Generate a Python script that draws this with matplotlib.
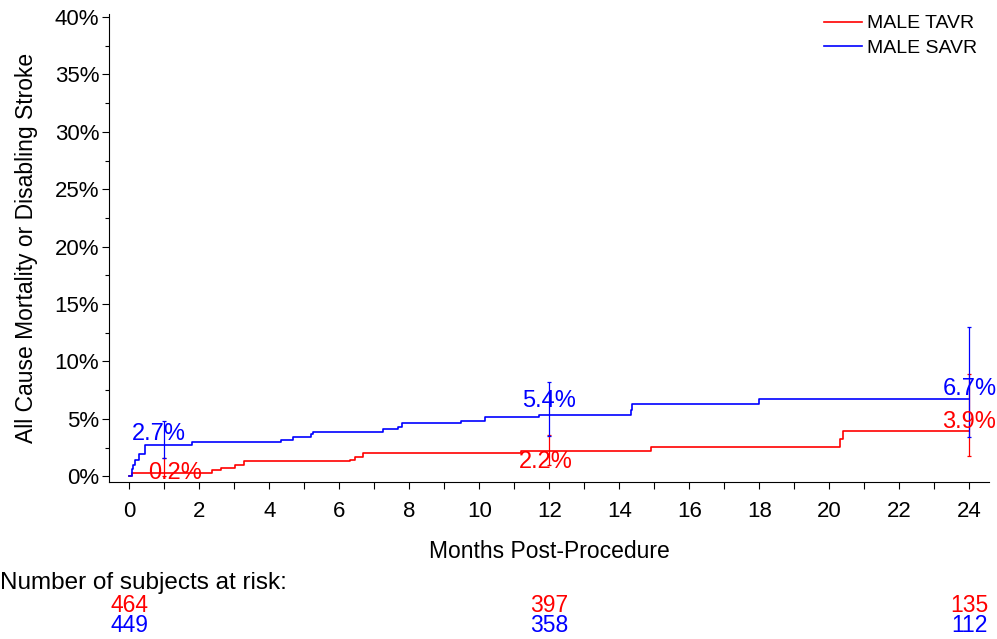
import numpy as np
import matplotlib
matplotlib.use('Agg')
import matplotlib.pyplot as plt
from matplotlib.ticker import MultipleLocator, FuncFormatter
import matplotlib.transforms as mtransforms

plt.rcParams['font.family'] = ['Liberation Sans', 'DejaVu Sans']

# Kaplan-Meier style event rate (%) - step curves
tavr_t = [0, 0.08, 2.36, 2.62, 3.03, 3.29, 6.31, 6.46, 6.68, 11.2, 14.9, 20.3, 20.4, 24]
tavr_y = [0, 0.29, 0.52, 0.73, 0.96, 1.33, 1.45, 1.68, 2.0, 2.2, 2.54, 3.22, 3.9, 3.9]

savr_t = [0, 0.07, 0.12, 0.17, 0.27, 0.46, 1.79, 4.34, 4.69, 5.19, 5.25, 7.25, 7.68, 7.79,
          9.47, 10.15, 11.72, 14.34, 14.37, 18.0, 24]
savr_y = [0, 0.67, 0.96, 1.39, 1.92, 2.76, 2.96, 3.14, 3.42, 3.7, 3.86, 4.09, 4.3, 4.64,
          4.84, 5.14, 5.37, 5.73, 6.29, 6.7, 6.7]

# confidence intervals at the landmark times
ci_t = [1, 12, 24]
tavr_est = [0.2, 2.2, 3.9]
tavr_lo = [0.0, 1.0, 1.8]
tavr_hi = [1.6, 3.6, 8.9]
savr_est = [2.7, 5.4, 6.7]
savr_lo = [1.6, 3.5, 3.4]
savr_hi = [4.8, 8.2, 13.0]

tavr_lbl = ['0.2%', '2.2%', '3.9%']
savr_lbl = ['2.7%', '5.4%', '6.7%']

# numbers at risk
risk_t = [0, 12, 24]
tavr_risk = [464, 397, 135]
savr_risk = [449, 358, 112]

RED = '#ff0000'
BLUE = '#0000ff'

fig = plt.figure(figsize=(9.97, 6.39), dpi=100)
ax = fig.add_axes([0.1093, 0.2457, 0.8826, 0.733])

ax.step(tavr_t, tavr_y, where='post', color=RED, lw=1.2, label='MALE TAVR')
ax.step(savr_t, savr_y, where='post', color=BLUE, lw=1.2, label='MALE SAVR')

ax.errorbar(ci_t, tavr_est,
            yerr=[np.array(tavr_est) - np.array(tavr_lo), np.array(tavr_hi) - np.array(tavr_est)],
            fmt='none', ecolor=RED, elinewidth=0.9, capsize=1.2, capthick=0.9)
ax.errorbar(ci_t, savr_est,
            yerr=[np.array(savr_est) - np.array(savr_lo), np.array(savr_hi) - np.array(savr_est)],
            fmt='none', ecolor=BLUE, elinewidth=0.9, capsize=1.2, capthick=0.9)

# value labels
ax.text(0.85, savr_est[0], savr_lbl[0], color=BLUE, fontsize=17, ha='center', va='bottom')
ax.text(12, savr_est[1] + 0.2, savr_lbl[1], color=BLUE, fontsize=17, ha='center', va='bottom')
ax.text(24, savr_est[2] - 0.1, savr_lbl[2], color=BLUE, fontsize=17, ha='center', va='bottom')
ax.text(1.3, 1.25, tavr_lbl[0], color=RED, fontsize=17, ha='center', va='top')
ax.text(11.9, tavr_est[1], tavr_lbl[1], color=RED, fontsize=17, ha='center', va='top')
ax.text(24, tavr_est[2] - 0.15, tavr_lbl[2], color=RED, fontsize=17, ha='center', va='bottom')

ax.set_xlim(-0.58, 24.56)
ax.set_ylim(-0.5, 40.3)
ax.spines['top'].set_visible(False)
ax.spines['right'].set_visible(False)
ax.xaxis.set_major_locator(MultipleLocator(2))
ax.xaxis.set_minor_locator(MultipleLocator(1))
ax.yaxis.set_major_locator(MultipleLocator(5))
ax.yaxis.set_minor_locator(MultipleLocator(2.5))
ax.yaxis.set_major_formatter(FuncFormatter(lambda v, p: '%d%%' % v))
ax.tick_params(axis='both', which='major', direction='out', length=5, width=0.8, labelsize=16)
ax.tick_params(axis='x', which='minor', direction='out', length=5, width=0.8)
ax.tick_params(axis='y', which='minor', direction='out', length=3, width=0.8)
ax.tick_params(axis='x', pad=9)
ax.tick_params(axis='y', pad=2)

ax.set_xlabel('Months Post-Procedure', fontsize=16.5, labelpad=13)
ax.set_ylabel('All Cause Mortality or Disabling Stroke', fontsize=16.5, labelpad=12)

ax.legend(loc='upper right', frameon=False, fontsize=14, handlelength=1.95,
          handletextpad=0.3, labelspacing=0.35, bbox_to_anchor=(1.007, 1.035))

# risk table
fig.text(0.0, 1 - 583 / 639, 'Number of subjects at risk:', fontsize=17.5, ha='left', va='center')
trans = mtransforms.blended_transform_factory(ax.transData, fig.transFigure)
for t, n in zip(risk_t, tavr_risk):
    ax.text(t, 1 - 605 / 639, str(n), color=RED, fontsize=16.5, ha='center', va='center',
            transform=trans, clip_on=False)
for t, n in zip(risk_t, savr_risk):
    ax.text(t, 1 - 626 / 639, str(n), color=BLUE, fontsize=16.5, ha='center', va='center',
            transform=trans, clip_on=False)

fig.savefig('out.png', dpi=100)
